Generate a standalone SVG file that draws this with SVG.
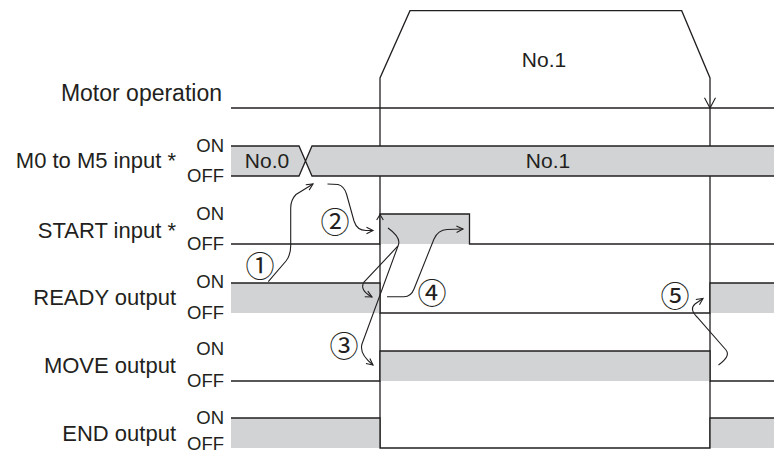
<svg xmlns="http://www.w3.org/2000/svg" width="774" height="454" viewBox="0 0 774 454">
<style>
.lbl{font-family:"Liberation Sans",Arial,sans-serif;font-size:22px;fill:#231f20;text-anchor:end}
.st{font-family:"Liberation Sans",Arial,sans-serif;font-size:18.5px;fill:#231f20;text-anchor:end}
.no{font-family:"Liberation Sans",Arial,sans-serif;font-size:21px;fill:#231f20;text-anchor:middle}
.cn{font-family:"Noto Sans CJK JP","DejaVu Sans",sans-serif;font-size:29px;fill:#231f20;text-anchor:middle;dominant-baseline:central}
.g{fill:#d1d3d4;stroke:none}
.sig{fill:none;stroke:#231f20;stroke-width:1.3}
.arr{fill:none;stroke:#231f20;stroke-width:1.1;marker-end:url(#ah)}
.chev{fill:none;stroke:#231f20;stroke-width:1.1}
</style>
<defs>
<marker id="ah" viewBox="0 0 8 8" refX="7" refY="4" markerWidth="8" markerHeight="8" markerUnits="userSpaceOnUse" orient="auto" overflow="visible">
<path d="M0.5,0.8 L7,4 L0.5,7.2" fill="none" stroke="#231f20" stroke-width="1.1"/>
</marker>
</defs>

<g id="motor">
<text class="lbl" x="222" y="101" style="font-size:23px">Motor operation</text>
<path class="sig" d="M231,108 H774"/>
<path class="sig" d="M380,448 V78 L410,10.7 H681.7 L710,78 V448"/>
<path class="chev" d="M704.5,97.7 L710,108 L715.5,97.7"/>
<text class="no" x="544" y="66.5">No.1</text>
</g>

<g id="m0m5">
<text class="lbl" x="176" y="168">M0 to M5 input *</text>
<text class="st" x="224" y="152">ON</text>
<text class="st" x="224" y="182">OFF</text>
<polygon class="g" points="231,146 299,146 305.5,161 299,176 231,176"/>
<polygon class="g" points="312,146 774,146 774,176 312,176 305.5,161"/>
<path class="sig" d="M231,146 H299 L312,176 H774 M231,176 H299 L312,146 H774"/>
<text class="no" x="267" y="168">No.0</text>
<text class="no" x="548" y="168">No.1</text>
</g>

<g id="start">
<text class="lbl" x="176" y="238">START input *</text>
<text class="st" x="224" y="220">ON</text>
<text class="st" x="224" y="250">OFF</text>
<rect class="g" x="380" y="214" width="89.5" height="30"/>
<path class="sig" d="M231,244 H380 V214 H469.5 V244 H774"/>
<path class="chev" d="M376.7,220 L380,214.5 L383.3,220"/>
</g>

<g id="ready">
<text class="lbl" x="176" y="305">READY output</text>
<text class="st" x="224" y="288">ON</text>
<text class="st" x="224" y="318.5">OFF</text>
<rect class="g" x="231" y="283" width="149" height="30"/>
<rect class="g" x="710" y="283" width="64" height="30"/>
<path class="sig" d="M231,283 H380 V313 H710 V283 H774"/>
</g>

<g id="move">
<text class="lbl" x="176" y="373">MOVE output</text>
<text class="st" x="224" y="355">ON</text>
<text class="st" x="224" y="387">OFF</text>
<rect class="g" x="380" y="351" width="330" height="30"/>
<path class="sig" d="M231,381 H380 V351 H710 V381 H774"/>
</g>

<g id="end">
<text class="lbl" x="176" y="441">END output</text>
<text class="st" x="224" y="424">ON</text>
<text class="st" x="224" y="449.5">OFF</text>
<rect class="g" x="231" y="418" width="149" height="30"/>
<rect class="g" x="710" y="418" width="64" height="30"/>
<path class="sig" d="M231,418 H380 V448 H710 V418 H774"/>
</g>

<g id="connectors">
<path class="arr" d="M268.3,281.7 L286,261 Q290.7,255 290.7,246 L290.7,208 Q290.7,200 296,194.5 L313,184"/>
<path class="arr" d="M327.5,184 L338,184.5 Q344,186 346.5,194 L354,221 Q357,230.5 366,230.5 L373,230.5"/>
<path class="arr" d="M388,228 C395,233 401,240 398,246 L364,282 Q359,290 372,297"/>
<path class="arr" d="M398,246 L362,344 Q359,354 373,365"/>
<path class="arr" d="M387,296.7 L404,296.7 Q411,296.7 414,289 L434,239 Q438,230 447,229.5 L463,229"/>
<path class="arr" d="M718.5,365 Q731,356 726,350 L697,317 Q689,309 695,304 L703,298.5"/>
</g>

<g id="labels">
<text class="cn" x="260" y="264">①</text>
<text class="cn" x="335" y="219.5">②</text>
<text class="cn" x="344" y="344">③</text>
<text class="cn" x="432" y="291">④</text>
<text class="cn" x="675" y="294">⑤</text>
</g>
</svg>
